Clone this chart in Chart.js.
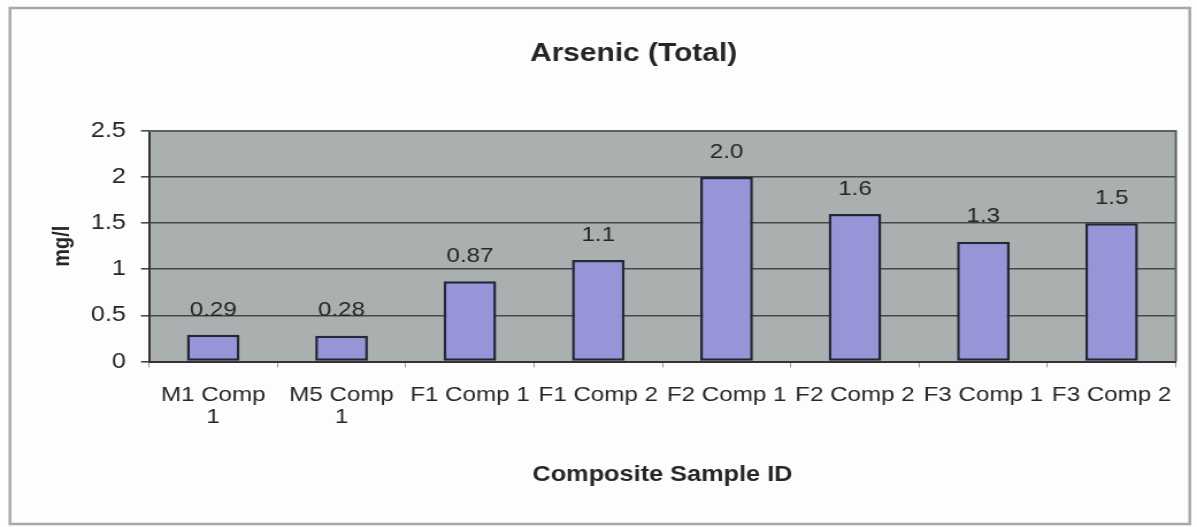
<!DOCTYPE html>
<html>
<head>
<meta charset="utf-8">
<script src="https://cdn.jsdelivr.net/npm/chart.js@4.4.1/dist/chart.umd.min.js"></script>
<style>
  html, body { margin: 0; padding: 0; background: #fdfdfd; overflow: hidden; }
</style>
</head>
<body>
<!-- the canvas is drawn narrower and widened by CSS, which gives the wide lettering -->
<canvas id="chart" width="1041" height="527" style="width:1197px;height:527px;display:block;"></canvas>
<script>
// ---- data ----
const chartTitle = 'Arsenic (Total)';
const xAxisTitle = 'Composite Sample ID';
const yAxisTitle = 'mg/l';
const categories = [['M1 Comp', '1'], ['M5 Comp', '1'], 'F1 Comp 1', 'F1 Comp 2', 'F2 Comp 1', 'F2 Comp 2', 'F3 Comp 1', 'F3 Comp 2'];
const arsenicValues = [0.29, 0.28, 0.87, 1.1, 2.0, 1.6, 1.3, 1.5];
const yTickValues = [0, 0.5, 1, 1.5, 2, 2.5];

// ---- styling ----
const FONT = "'Liberation Sans', Arial, sans-serif";
const TEXT = '#262626';
Chart.defaults.font.family = FONT;

const decorations = {
  id: 'decorations',
  beforeDraw(chart) {
    const { ctx, chartArea: a } = chart;
    ctx.save();
    // outer frame of the chart
    ctx.strokeStyle = '#aba7a7';
    ctx.lineWidth = 2.5;
    ctx.strokeRect(8.7, 8, 1026, 516);
    // plot area fill
    ctx.fillStyle = '#a9b0af';
    ctx.fillRect(a.left, a.top, a.right - a.left, a.bottom - a.top);
    ctx.restore();
  },
  beforeDatasetsDraw(chart) {
    const { ctx, chartArea: a } = chart;
    ctx.save();
    // top and right edges of the plot area
    ctx.strokeStyle = '#5e6262';
    ctx.lineWidth = 2;
    ctx.beginPath();
    ctx.moveTo(a.left, a.top);
    ctx.lineTo(a.right, a.top);
    ctx.lineTo(a.right, a.bottom);
    ctx.stroke();
    ctx.restore();
  },
  afterDatasetsDraw(chart) {
    const { ctx } = chart;
    const ds = chart.data.datasets[0];
    const meta = chart.getDatasetMeta(0);
    ctx.save();
    ctx.font = `21px ${FONT}`;
    ctx.fillStyle = TEXT;
    ctx.textAlign = 'center';
    ctx.textBaseline = 'middle';
    meta.data.forEach((bar, i) => {
      ctx.fillText(Number(ds.data[i]).toPrecision(2), bar.x, bar.y - 25);
    });
    ctx.restore();
  },
  afterDraw(chart) {
    const { ctx } = chart;
    ctx.save();
    ctx.font = `bold 26px ${FONT}`;
    ctx.fillStyle = TEXT;
    ctx.textAlign = 'center';
    ctx.textBaseline = 'middle';
    ctx.fillText(chartTitle, 551, 54);
    ctx.restore();
  }
};

new Chart(document.getElementById('chart'), {
  type: 'bar',
  data: {
    labels: categories,
    datasets: [{
      label: chartTitle,
      data: arsenicValues,
      backgroundColor: '#9595d8',
      borderColor: '#26263a',
      borderWidth: 2.5,
      borderSkipped: false,
      categoryPercentage: 1,
      barPercentage: 0.41
    }]
  },
  options: {
    responsive: false,
    devicePixelRatio: 1,
    animation: false,
    layout: { padding: { top: 131, right: 18.4, bottom: 0, left: 0 } },
    plugins: {
      legend: { display: false },
      title: { display: false },
      tooltip: { enabled: false }
    },
    scales: {
      x: {
        grid: {
          display: true,
          offset: true,
          drawOnChartArea: false,
          drawTicks: true,
          tickLength: 6,
          color: '#9a9a9a',
          lineWidth: 1
        },
        border: { display: true, color: '#333333', width: 2 },
        ticks: {
          autoSkip: false,
          maxRotation: 0,
          minRotation: 0,
          padding: 17,
          color: TEXT,
          font: { size: 21, lineHeight: 1.05 }
        },
        title: {
          display: true,
          text: xAxisTitle,
          color: TEXT,
          font: { size: 22, weight: 'bold' },
          padding: { top: 0, bottom: 39 }
        },
        afterFit(scale) { scale.height = 165.5; }
      },
      y: {
        min: yTickValues[0],
        max: yTickValues[yTickValues.length - 1],
        afterBuildTicks(scale) { scale.ticks = yTickValues.map(v => ({ value: v })); },
        grid: {
          color: '#454848',
          lineWidth: 1.6,
          drawTicks: true,
          tickLength: 7
        },
        border: { display: true, color: '#333333', width: 2 },
        ticks: {
          padding: 13,
          color: TEXT,
          font: { size: 22 },
          callback: v => String(v)
        },
        title: {
          display: true,
          text: yAxisTitle,
          color: TEXT,
          font: { size: 20, weight: 'bold' },
          padding: { top: 42, bottom: 0 }
        },
        afterFit(scale) { scale.width = 129.6; }
      }
    }
  },
  plugins: [decorations]
});
</script>
</body>
</html>
